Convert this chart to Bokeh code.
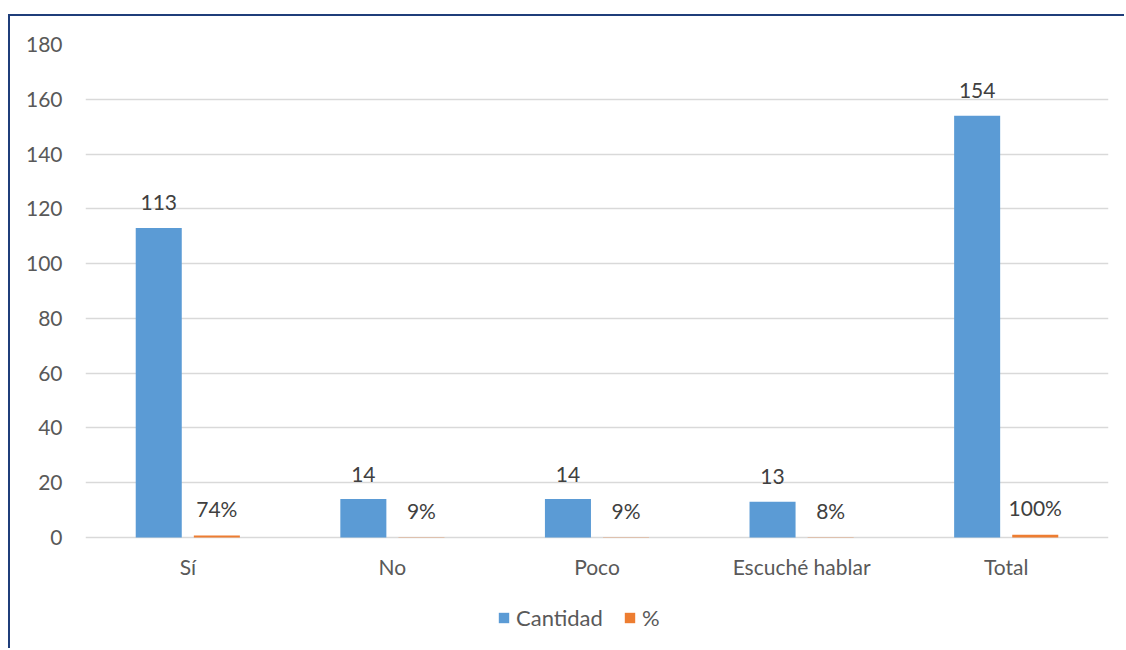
from bokeh.plotting import figure
from bokeh.models import (ColumnDataSource, FactorRange, Range1d, LabelSet,
                          FixedTicker, Legend, LegendItem)
from bokeh.core.properties import value
from bokeh.transform import dodge
from bokeh.embed import file_html
from bokeh.resources import INLINE

categories = ["Sí", "No", "Poco", "Escuché hablar", "Total"]
cantidad = [113, 14, 14, 13, 154]
porcentaje = [0.74, 0.09, 0.09, 0.08, 1.00]
cantidad_labels = ["113", "14", "14", "13", "154"]
porcentaje_labels = ["74%", "9%", "9%", "8%", "100%"]
y_ticks = [0, 20, 40, 60, 80, 100, 120, 140, 160, 180]
zeros = [0, 0, 0, 0, 0]

FONT = "Lato"
FS = "21px"
BLUE = "#5B9BD5"
ORANGE = "#ED7D31"

src = ColumnDataSource(dict(cat=categories, cantidad=cantidad, pct=porcentaje,
                            cl=cantidad_labels, pl=porcentaje_labels, zero=zeros))

# frame runs to the bottom of the canvas so the legend (drawn inside it) is not clipped;
# the lower limit puts the value 0 where the reference's baseline sits
p = figure(x_range=FactorRange(factors=categories, range_padding=0),
           y_range=Range1d(-41.3, 180),
           width=1116, height=634, output_backend="svg", toolbar_location=None,
           x_axis_location=None,
           min_border_left=75, min_border_right=18, min_border_top=28,
           min_border_bottom=0)
p.styles = {"margin-top": "14px", "margin-left": "8px",
            "border-top": "2px solid #1F3E7A", "border-left": "2px solid #1F3E7A"}
p.outline_line_color = None

r1 = p.vbar(x=dodge("cat", -0.142, range=p.x_range), top="cantidad", width=0.225,
            source=src, fill_color=BLUE, line_color=None)
r2 = p.vbar(x=dodge("cat", 0.142, range=p.x_range), top="pct", width=0.225,
            source=src, fill_color=ORANGE, line_color=None)

p.add_layout(LabelSet(x=dodge("cat", -0.142, range=p.x_range), y="cantidad", text="cl",
                      source=src, y_offset=25, text_align="center", text_baseline="middle",
                      text_font=value(FONT), text_font_size=value(FS),
                      text_color=value("#404040")))
p.add_layout(LabelSet(x=dodge("cat", 0.142, range=p.x_range), y="pct", text="pl",
                      source=src, y_offset=27, text_align="center", text_baseline="middle",
                      text_font=value(FONT), text_font_size=value(FS),
                      text_color=value("#404040")))
# category labels (x axis)
p.add_layout(LabelSet(x="cat", y="zero", text="cat", source=src, y_offset=-29,
                      text_align="center", text_baseline="middle",
                      text_font=value(FONT), text_font_size=value(FS),
                      text_color=value("#595959")))

p.yaxis.ticker = FixedTicker(ticks=y_ticks)
p.yaxis.axis_line_color = None
p.yaxis.major_tick_line_color = None
p.yaxis.major_tick_out = 0
p.yaxis.minor_tick_line_color = None
p.yaxis.major_label_standoff = 23
p.yaxis.major_label_text_font = FONT
p.yaxis.major_label_text_font_size = FS
p.yaxis.major_label_text_color = "#595959"

p.xgrid.grid_line_color = None
p.ygrid.ticker = FixedTicker(ticks=y_ticks)
p.ygrid.grid_line_color = "#D9D9D9"
p.ygrid.grid_line_width = 1.5

legend = Legend(items=[LegendItem(label="Cantidad", renderers=[r1]),
                       LegendItem(label="%", renderers=[r2])],
                orientation="horizontal", location=(412, 19),
                border_line_color=None, background_fill_alpha=0,
                label_text_font=FONT, label_text_font_size="22px",
                label_text_color="#595959", glyph_width=13, glyph_height=13,
                spacing=20, label_standoff=6, padding=5, margin=0)
p.add_layout(legend, "center")

open("out.html", "w").write(file_html(p, INLINE))
